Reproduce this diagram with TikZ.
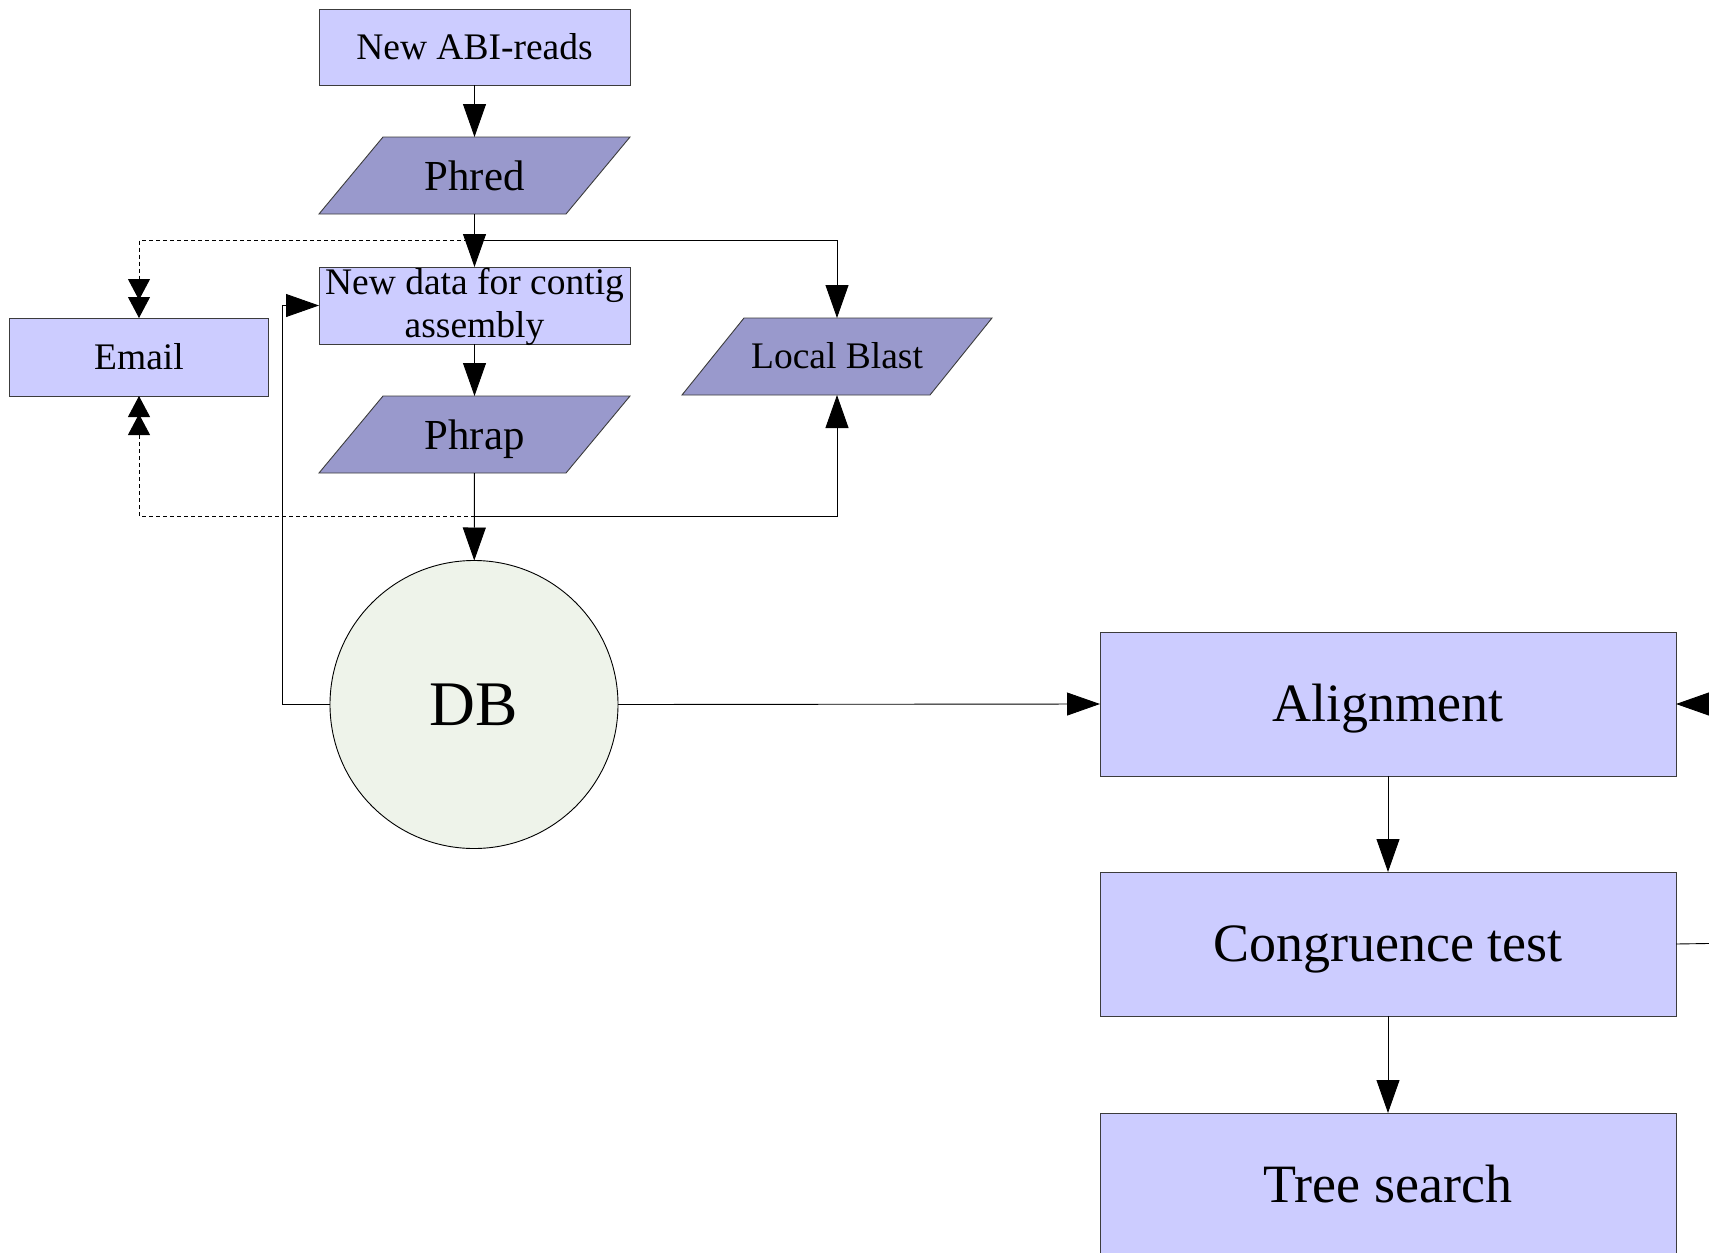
\documentclass[tikz,border=0pt]{standalone}
\usepackage{fontspec}
\setmainfont{Liberation Serif}
\usetikzlibrary{arrows.meta,backgrounds}
\definecolor{boxfill}{RGB}{204,204,255}
\definecolor{parafill}{RGB}{153,153,204}
\definecolor{dbfill}{RGB}{238,243,234}
\definecolor{edge}{RGB}{60,60,60}
\tikzset{
  base/.style={inner sep=0pt, outer sep=0pt, text=black},
  lightbox/.style={base, rectangle, draw=edge, line width=0.9pt, fill=boxfill},
  bigbox/.style={lightbox, minimum width=576pt, minimum height=144pt,
     font=\fontsize{54}{62}\selectfont, text height=35.6pt, text depth=0pt},
  paranode/.style={base, rectangle, minimum height=77pt},
  parashape/.style={draw=edge, line width=0.9pt, fill=parafill},
  smallfont/.style={font=\fontsize{37.5}{43}\selectfont, text height=24.5pt, text depth=0pt},
  parafont/.style={font=\fontsize{42.8}{49}\selectfont, text height=30pt, text depth=0pt},
  conn/.style={line width=0.9pt, draw=black},
  arr/.style={conn, -{Triangle[length=33pt,width=23pt]}},
  dbl/.style={conn, dash pattern=on 4pt off 3pt,
     -{Triangle[length=21pt,width=22pt,sep=-3pt]Triangle[length=21pt,width=22pt]}},
}
\begin{document}
\begin{tikzpicture}[x=1pt,y=-1pt]
\useasboundingbox (0,0) rectangle (1709,1253);
\clip (0,0) rectangle (1709,1253);

% nodes
\node[lightbox, smallfont, minimum width=311pt, minimum height=76pt] (abi) at (474.5,47) {New ABI-reads};
\node[paranode, parafont, minimum width=247pt] (phred) at (474.5,175.5) {Phred};
\node[lightbox, minimum width=311pt, minimum height=77pt,
      font=\fontsize{37.5}{43}\selectfont] (newdata) at (474.5,305.5)
      {\raisebox{11.5pt}[0pt][0pt]{\begin{tabular}[t]{@{}c@{}}New data for contig\\assembly\end{tabular}}};
\node[lightbox, smallfont, minimum width=259pt, minimum height=78pt] (email) at (139,357) {Email};
\node[paranode, smallfont, minimum width=248pt] (blast) at (837,356.5) {Local Blast};
\node[paranode, parafont, minimum width=247pt] (phrap) at (474.5,434.5) {Phrap};
\node[base, circle, draw=black, line width=0.9pt, fill=dbfill, minimum size=288pt,
      font=\fontsize{63.5}{72}\selectfont, text height=41.5pt, text depth=0pt] (db) at (474,704.5) {DB};
\node[bigbox] (align) at (1388,704) {Alignment};
\node[bigbox] (cong) at (1388,944) {Congruence test};
\node[bigbox] (tree) at (1388,1185) {Tree search};

% parallelogram outlines behind their texts
\begin{pgfonlayer}{background}
\path[parashape] ([xshift=-32pt]phred.south west) -- ([xshift=-32pt]phred.south east)
  -- ([xshift=32pt]phred.north east) -- ([xshift=32pt]phred.north west) -- cycle;
\path[parashape] ([xshift=-32pt]phrap.south west) -- ([xshift=-32pt]phrap.south east)
  -- ([xshift=32pt]phrap.north east) -- ([xshift=32pt]phrap.north west) -- cycle;
\path[parashape] ([xshift=-31pt]blast.south west) -- ([xshift=-31pt]blast.south east)
  -- ([xshift=31pt]blast.north east) -- ([xshift=31pt]blast.north west) -- cycle;
\end{pgfonlayer}

% junctions and off-page ends
\coordinate (j1) at (474.5,240);
\coordinate (j2) at (474.5,516);
\coordinate (offA) at (1740,704);
\coordinate (offC) at (1740,943);

% connectors
\draw[arr] (abi) -- (phred);
\draw[arr] (phred) -- (newdata);
\draw[dbl] (j1) -| (email);
\draw[arr] (j1) -| (blast);
\draw[arr] (newdata) -- (phrap);
\draw[arr] (phrap) -- (db);
\draw[dbl] (j2) -| (email);
\draw[arr] (j2) -| (blast);
\draw[arr] (db.west) -- ++(-48,0) |- (newdata.west);
\draw[arr] (db.east) -- (align.west);
\draw[arr] (align) -- (cong);
\draw[arr] (cong) -- (tree);
\draw[arr] (offA) -- (align.east);
\draw[conn] (cong.east) -- (offC);
\end{tikzpicture}
\end{document}
